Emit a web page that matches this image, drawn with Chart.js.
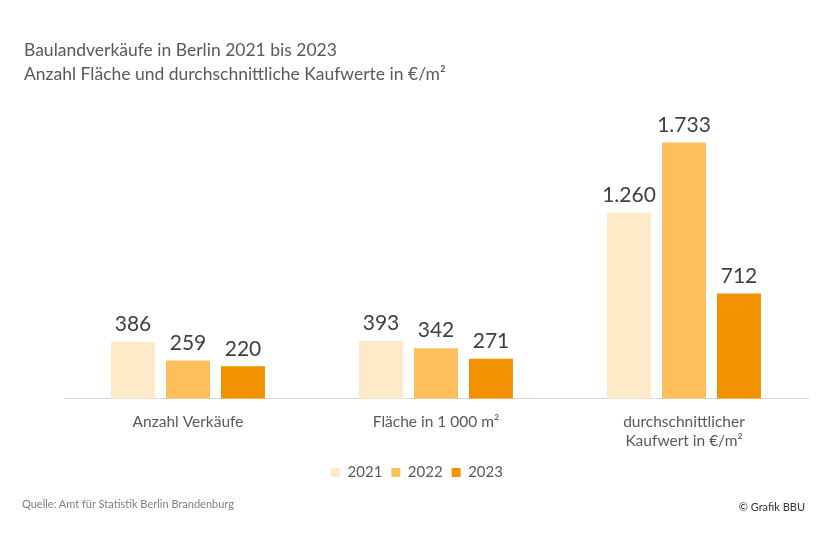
<!DOCTYPE html>
<html><head><meta charset="utf-8">
<script src="https://cdn.jsdelivr.net/npm/chart.js@4"></script>
<style>
html,body{margin:0;padding:0;background:#fff;}
#wrap{position:relative;width:826px;height:535px;font-family:Lato,"Open Sans",sans-serif;}
canvas{position:absolute;left:0;top:0;}
.t{position:absolute;color:#595959;white-space:nowrap;}
</style></head>
<body><div id="wrap">
<canvas id="c" width="826" height="535"></canvas>
<div class="t" style="left:24px;top:38px;font-size:17.5px;line-height:24px;">Baulandverkäufe in Berlin 2021 bis 2023<br>Anzahl Fläche und durchschnittliche Kaufwerte in €/m²</div>
<div class="t" style="left:22px;top:497px;font-size:11px;color:#7f7f7f;">Quelle: Amt für Statistik Berlin Brandenburg</div>
<div class="t" style="right:21px;top:500px;font-size:11px;color:#333;">© Grafik BBU</div>
</div>
<script>
const categories = [["Anzahl Verkäufe"], ["Fläche in 1 000 m²"], ["durchschnittlicher", "Kaufwert in €/m²"]];
const seriesNames = ["2021", "2022", "2023"];
const values2021 = [386, 393, 1260];
const values2022 = [259, 342, 1733];
const values2023 = [220, 271, 712];
const colors = ["#FEE9C8", "#FFBE5C", "#F39200"];

const fmt = v => v.toLocaleString('de-DE');

const labelPlugin = {
  id: 'valueLabels',
  afterLayout(chart) {
    if (chart.legend) { chart.legend.left -= 19; chart.legend.right -= 19; }
  },
  afterDatasetsDraw(chart) {
    const ctx = chart.ctx;
    ctx.save();
    ctx.font = '21px Lato, "Open Sans", sans-serif';
    ctx.fillStyle = '#404040';
    ctx.textAlign = 'center';
    ctx.textBaseline = 'bottom';
    chart.data.datasets.forEach((ds, i) => {
      chart.getDatasetMeta(i).data.forEach((bar, j) => {
        ctx.fillText(fmt(ds.data[j]), bar.x, bar.y - 7);
      });
    });
    ctx.restore();
  }
};

new Chart(document.getElementById('c'), {
  type: 'bar',
  data: {
    labels: categories,
    datasets: [
      { label: seriesNames[0], data: values2021, backgroundColor: colors[0] },
      { label: seriesNames[1], data: values2022, backgroundColor: colors[1] },
      { label: seriesNames[2], data: values2023, backgroundColor: colors[2] }
    ]
  },
  options: {
    responsive: false,
    animation: false,
    layout: { padding: { left: 64, right: 18, top: 103, bottom: 45 } },
    datasets: { bar: { categoryPercentage: 0.665, barPercentage: 0.8 } },
    scales: {
      x: {
        grid: { display: false, drawTicks: false },
        border: { display: true, color: '#d9d9d9', width: 1 },
        ticks: { padding: 14, color: '#595959', font: { family: 'Lato, "Open Sans", sans-serif', size: 15.5 } },
        afterFit(scale) { scale.height -= 8; }
      },
      y: { display: false, min: 0, max: 2000 }
    },
    plugins: {
      legend: {
        position: 'bottom',
        labels: { boxWidth: 9, boxHeight: 9, padding: 9, color: '#595959', font: { family: 'Lato, "Open Sans", sans-serif', size: 15 } }
      },
      tooltip: { enabled: false }
    }
  },
  plugins: [labelPlugin]
});
</script>
</body></html>
